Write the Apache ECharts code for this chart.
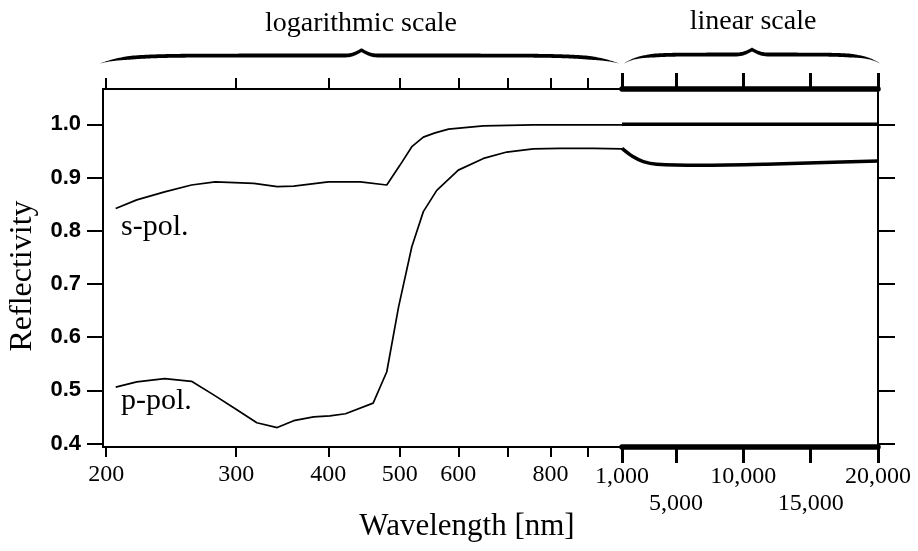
<!DOCTYPE html>
<html>
<head>
<meta charset="utf-8">
<script src="https://cdn.jsdelivr.net/npm/echarts@6/dist/echarts.min.js"></script>
<style>
html,body{margin:0;padding:0;background:#fff;}
#chart{width:918px;height:551px;}
</style>
</head>
<body>
<div id="chart"></div>
<script>
// ---- data ----
// logarithmic part (200 - 1000 nm)
const sLogWavelength = [206, 220, 240, 261, 281, 317, 341, 359, 400, 442, 480, 500, 519, 538, 558, 582, 649, 758, 1000];
const sLogReflect    = [0.842, 0.858, 0.873, 0.886, 0.892, 0.889, 0.883, 0.884, 0.892, 0.892, 0.886, 0.923, 0.958, 0.976, 0.984, 0.991, 0.997, 0.999, 0.999];
const pLogWavelength = [206, 220, 240, 261, 280, 301, 320, 341, 359, 382, 402, 422, 460, 480, 498, 519, 538, 561, 600, 649, 698, 758, 824, 915, 1000];
const pLogReflect    = [0.506, 0.516, 0.522, 0.517, 0.491, 0.463, 0.439, 0.430, 0.443, 0.450, 0.452, 0.456, 0.476, 0.535, 0.657, 0.770, 0.836, 0.876, 0.914, 0.936, 0.948, 0.954, 0.955, 0.955, 0.954];
// linear part (1000 - 20000 nm)
const sLinWavelength = [1000, 5000, 10000, 15000, 20000];
const sLinReflect    = [1.0, 1.0, 1.0, 1.0, 1.0];
const pLinWavelength = [1000, 1838, 2579, 3572, 6782, 11727, 16664, 20000];
const pLinReflect    = [0.955, 0.939, 0.930, 0.925, 0.923, 0.925, 0.929, 0.931];

// ticks / labels
const logTickValues  = [200, 300, 400, 500, 600, 700, 800, 900, 1000];
const logLabelValues = [200, 300, 400, 500, 600, 800];
const linTickValues  = [1000, 5000, 10000, 15000, 20000];
const linLowerRow    = [5000, 15000];
const yTickValues    = [0.4, 0.5, 0.6, 0.7, 0.8, 0.9, 1.0];

const xTitle = 'Wavelength [nm]';
const yTitle = 'Reflectivity';
const logTitle = 'logarithmic scale';
const linTitle = 'linear scale';
const sLabel = 's-pol.';
const pLabel = 'p-pol.';

// ---- helpers ----
function pairs(xs, ys) { return xs.map((x, i) => [x, ys[i]]); }
function commas(v) { return String(Math.round(v)).replace(/\B(?=(\d{3})+(?!\d))/g, ','); }

const SERIF = '"Liberation Serif", "Times New Roman", serif';
const SANS = '"Liberation Sans", Arial, sans-serif';

// decorative curly brace as a tapered filled polygon
function bracePoints(x0, x1, pk, yFlat, yEnd, yPeak, k) {
  const up = [], lo = [];
  for (let x = x0; x <= x1 + 0.001; x += 1) {
    const d = Math.min(x - x0, x1 - x);
    const curl = (yEnd - yFlat) * Math.exp(-d / k);
    const dx = Math.abs(x - pk);
    const bump = dx < 16 ? (yFlat - yPeak) * Math.pow(1 - dx / 16, 2) : 0;
    const yc = yFlat + curl - bump;
    const w = 3.8 * Math.min(1, (d + 0.8) / 30);
    up.push([x, yc - w / 2]);
    lo.push([x, yc + w / 2]);
  }
  return up.concat(lo.reverse());
}

function txt(text, x, y, font, rotation) {
  return {
    type: 'text', x: x, y: y, rotation: rotation || 0, silent: true,
    style: { text: text, font: font, fill: '#000', align: 'center', verticalAlign: 'middle',
             textAlign: 'center', textVerticalAlign: 'middle' }
  };
}

const yMin = 0.3935, yMax = 1.0665;

const chart = echarts.init(document.getElementById('chart'), null, { renderer: 'canvas' });

const option = {
  animation: false,
  backgroundColor: '#fff',
  grid: [
    { left: 103, top: 89, width: 519, height: 358, containLabel: false },
    { left: 622, top: 89, width: 256, height: 358, containLabel: false }
  ],
  xAxis: [
    { // log bottom
      type: 'log', logBase: 10, gridIndex: 0, position: 'bottom', min: 198, max: 1000,
      axisLine: { show: true, lineStyle: { color: '#000', width: 2 } },
      axisTick: { show: true, inside: false, length: 10, lineStyle: { color: '#000', width: 2 }, customValues: logTickValues },
      axisLabel: { show: true, margin: 16, customValues: logLabelValues, color: '#000',
                   fontFamily: SERIF, fontSize: 24, formatter: v => commas(v) },
      splitLine: { show: false }, minorTick: { show: false }, minorSplitLine: { show: false }
    },
    { // log top
      type: 'log', logBase: 10, gridIndex: 0, position: 'top', min: 198, max: 1000,
      axisLine: { show: true, lineStyle: { color: '#000', width: 2 } },
      axisTick: { show: true, inside: false, length: 11, lineStyle: { color: '#000', width: 2 }, customValues: logTickValues },
      axisLabel: { show: false },
      splitLine: { show: false }
    },
    { // linear bottom
      type: 'value', gridIndex: 1, position: 'bottom', min: 1000, max: 20000,
      axisLine: { show: true, lineStyle: { color: '#000', width: 5.5 } },
      axisTick: { show: true, inside: false, length: 16, lineStyle: { color: '#000', width: 3 }, customValues: linTickValues },
      axisLabel: { show: true, margin: 16, customValues: linTickValues, color: '#000',
                   fontFamily: SERIF, fontSize: 24, lineHeight: 27,
                   formatter: v => (linLowerRow.indexOf(v) >= 0 ? '\n' : '') + commas(v) },
      splitLine: { show: false }
    },
    { // linear top
      type: 'value', gridIndex: 1, position: 'top', min: 1000, max: 20000,
      axisLine: { show: true, lineStyle: { color: '#000', width: 5.5 } },
      axisTick: { show: true, inside: false, length: 16, lineStyle: { color: '#000', width: 3 }, customValues: linTickValues },
      axisLabel: { show: false },
      splitLine: { show: false }
    }
  ],
  yAxis: [
    {
      type: 'value', gridIndex: 0, position: 'left', min: yMin, max: yMax,
      axisLine: { show: true, lineStyle: { color: '#000', width: 2 } },
      axisTick: { show: true, inside: false, length: 16, lineStyle: { color: '#000', width: 2 }, customValues: yTickValues },
      axisLabel: { show: true, margin: 22, customValues: yTickValues, color: '#000',
                   fontFamily: SANS, fontWeight: 'bold', fontSize: 22, formatter: v => v.toFixed(1) },
      splitLine: { show: false }
    },
    {
      type: 'value', gridIndex: 1, position: 'right', min: yMin, max: yMax,
      axisLine: { show: true, lineStyle: { color: '#000', width: 2 } },
      axisTick: { show: true, inside: false, length: 17, lineStyle: { color: '#000', width: 2 }, customValues: yTickValues },
      axisLabel: { show: false },
      splitLine: { show: false }
    }
  ],
  series: [
    { name: 's-pol log', type: 'line', xAxisIndex: 0, yAxisIndex: 0, data: pairs(sLogWavelength, sLogReflect),
      showSymbol: false, symbol: 'none', lineStyle: { color: '#000', width: 1.7 }, clip: false },
    { name: 'p-pol log', type: 'line', xAxisIndex: 0, yAxisIndex: 0, data: pairs(pLogWavelength, pLogReflect),
      showSymbol: false, symbol: 'none', lineStyle: { color: '#000', width: 1.7 }, clip: false },
    { name: 's-pol lin', type: 'line', xAxisIndex: 2, yAxisIndex: 1, data: pairs(sLinWavelength, sLinReflect),
      showSymbol: false, symbol: 'none', lineStyle: { color: '#000', width: 3.5 }, clip: false },
    { name: 'p-pol lin', type: 'line', xAxisIndex: 2, yAxisIndex: 1, data: pairs(pLinWavelength, pLinReflect),
      smooth: 0.35, showSymbol: false, symbol: 'none', lineStyle: { color: '#000', width: 3.5 }, clip: false }
  ],
  graphic: [
    { type: 'polygon', silent: true, shape: { points: bracePoints(100, 619, 361.5, 55.5, 63.5, 50, 24) }, style: { fill: '#000' } },
    { type: 'polygon', silent: true, shape: { points: bracePoints(624, 880, 752, 54.5, 63.5, 49.5, 14) }, style: { fill: '#000' } },
    txt(logTitle, 361, 24, '28px ' + SERIF),
    txt(linTitle, 753, 22, '28px ' + SERIF),
    txt(xTitle, 467, 527, '31px ' + SERIF),
    txt(yTitle, 23, 276, '32px ' + SERIF, Math.PI / 2),
    { type: 'text', x: 121, y: 242, silent: true,
      style: { text: sLabel, font: '30px ' + SERIF, fill: '#000', align: 'left', verticalAlign: 'bottom', textAlign: 'left', textVerticalAlign: 'bottom' } },
    { type: 'text', x: 121, y: 416, silent: true,
      style: { text: pLabel, font: '30px ' + SERIF, fill: '#000', align: 'left', verticalAlign: 'bottom', textAlign: 'left', textVerticalAlign: 'bottom' } }
  ]
};

chart.setOption(option);
</script>
</body>
</html>
